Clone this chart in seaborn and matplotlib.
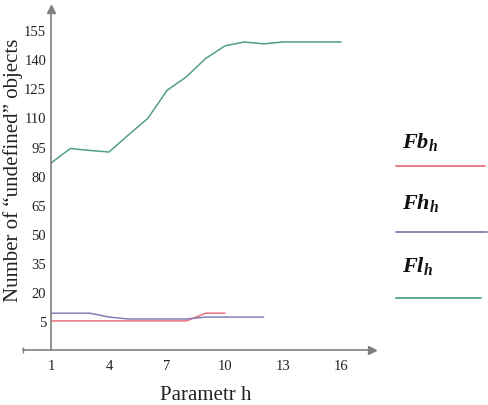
import numpy as np
import pandas as pd
import matplotlib
matplotlib.use("Agg")
import matplotlib.pyplot as plt
from matplotlib.lines import Line2D
import seaborn as sns

# values
h_fb = [1, 2, 3, 4, 5, 6, 7, 8, 9, 10]
fb = [5, 5, 5, 5, 5, 5, 5, 5, 9, 9]
h_fh = [1, 2, 3, 4, 5, 6, 7, 8, 9, 10, 11, 12]
fh = [9, 9, 9, 7, 6, 6, 6, 6, 7, 7, 7, 7]
h_fl = [1, 2, 3, 4, 5, 6, 7, 8, 9, 10, 11, 12, 13, 14, 15, 16]
fl = [86.5, 94, 93, 92.2, 101, 109.5, 124, 131, 140.5, 147, 149, 148, 149, 149, 149, 149]
xticks = [1, 4, 7, 10, 13, 16]
yticks = [5, 20, 35, 50, 65, 80, 95, 110, 125, 140, 155]
names = ["Fb", "Fh", "Fl"]
colors = ["#e8727c", "#8580b8", "#52a083"]

sns.set_style("white")
plt.rcParams["font.family"] = ["Liberation Serif", "DejaVu Serif"]
plt.rcParams["mathtext.fontset"] = "custom"
plt.rcParams["mathtext.bf"] = "Liberation Serif:italic:bold"

fig = plt.figure(figsize=(4.89, 4.06), dpi=100)
ax = fig.add_axes([23 / 489, (406 - 351) / 406, (372 - 23) / 489, (351 - 10) / 406])

df_fb = pd.DataFrame({"h": h_fb, "n": fb})
df_fh = pd.DataFrame({"h": h_fh, "n": fh})
df_fl = pd.DataFrame({"h": h_fl, "n": fl})
for d, c in zip([df_fb, df_fh, df_fl], colors):
    sns.lineplot(data=d, x="h", y="n", color=c, lw=1.1, ax=ax)

ax.set_xlim(-0.45, 17.6)
ax.set_ylim(-10, 166)
ax.set_xticks(xticks)
ax.set_yticks(yticks)
for s in ["top", "right"]:
    ax.spines[s].set_visible(False)
ax.spines["left"].set_position(("data", 1))
for s in ["left", "bottom"]:
    ax.spines[s].set_color("#808080")
    ax.spines[s].set_linewidth(1.2)
ax.tick_params(direction="inout", length=5, width=1, color="#808080",
               labelsize=10.5, labelcolor="#222222", pad=4)
ax.tick_params(axis="y", pad=1)
# arrow heads
ax.plot(1, 1, marker="^", color="#808080", ms=6, transform=ax.get_xaxis_transform(), clip_on=False)
ax.plot(1, 0, marker=">", color="#808080", ms=6, transform=ax.transAxes, clip_on=False)
ax.plot(0, 0, marker="|", color="#808080", ms=5, transform=ax.transAxes, clip_on=False)

ax.set_xlabel("")
ax.set_ylabel("")
fig.text(206 / 489, 1 - 396 / 406, "Parametr h", fontsize=15, color="#222222",
         ha="center", va="center")
fig.text(13 / 489, 1 - 170 / 406, "Number of \u201cundefined\u201d objects", fontsize=15,
         color="#222222", rotation=90, ha="center", va="center")

# legend on the right
text_y = [143, 204, 267]
line_y = [167, 233, 299]
line_x1 = [485, 487, 481]
for n, c, ty, ly, x1 in zip(names, colors, text_y, line_y, line_x1):
    fig.text(402 / 489, 1 - ty / 406, r"$\mathbf{%s}_{\mathbf{h}}$" % n, fontsize=16,
             color="#111111", ha="left", va="center")
    fig.add_artist(Line2D([396 / 489, x1 / 489], [1 - ly / 406, 1 - ly / 406],
                          color=c, lw=1.3))

fig.savefig("out.png", dpi=100)
